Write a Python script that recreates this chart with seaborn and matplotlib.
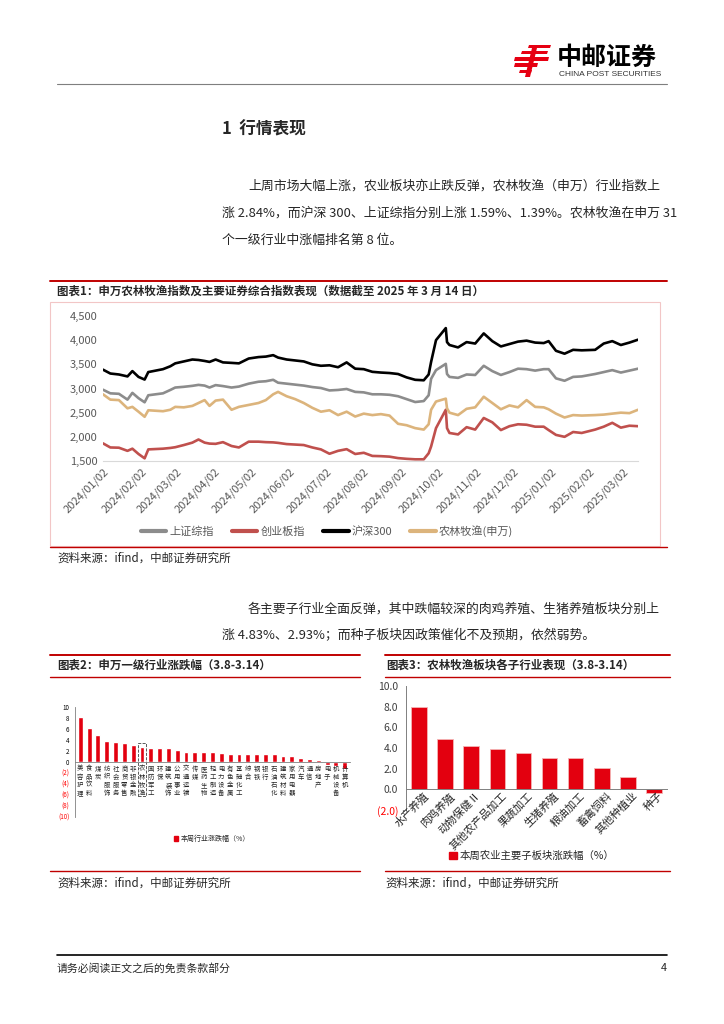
import matplotlib
matplotlib.use('Agg')
import matplotlib.pyplot as plt
from matplotlib.lines import Line2D
from matplotlib.patches import Rectangle, Patch, Polygon
import numpy as np
import pandas as pd
import seaborn as sns

# ---- chart 1 data: index levels (roughly weekly) ----
dates = ['2024-01-02', '2024-01-08', '2024-01-15', '2024-01-22', '2024-01-26', '2024-01-31',
         '2024-02-05', '2024-02-08', '2024-02-20', '2024-02-26', '2024-03-01', '2024-03-08',
         '2024-03-15', '2024-03-20', '2024-03-25', '2024-03-29', '2024-04-03', '2024-04-09',
         '2024-04-16', '2024-04-22', '2024-04-30', '2024-05-08', '2024-05-14', '2024-05-20',
         '2024-05-24', '2024-05-31', '2024-06-07', '2024-06-14', '2024-06-21', '2024-06-28',
         '2024-07-05', '2024-07-12', '2024-07-19', '2024-07-26', '2024-08-02', '2024-08-09',
         '2024-08-16', '2024-08-23', '2024-08-30', '2024-09-06', '2024-09-13', '2024-09-20',
         '2024-09-24', '2024-09-26', '2024-09-30', '2024-10-08', '2024-10-09', '2024-10-11',
         '2024-10-18', '2024-10-25', '2024-11-01', '2024-11-08', '2024-11-15', '2024-11-22',
         '2024-11-29', '2024-12-06', '2024-12-13', '2024-12-20', '2024-12-27', '2024-12-31',
         '2025-01-06', '2025-01-13', '2025-01-20', '2025-01-27', '2025-02-07', '2025-02-14',
         '2025-02-21', '2025-02-28', '2025-03-07', '2025-03-14']

sse = [2975, 2900, 2890, 2770, 2910, 2800, 2715, 2860, 2900, 2970, 3020, 3035,
       3055, 3075, 3060, 3020, 3070, 3050, 3020, 3040, 3100, 3140, 3150, 3180,
       3120, 3100, 3080, 3060, 3030, 3010, 2960, 2970, 2990, 2930, 2920, 2880,
       2880, 2870, 2840, 2780, 2720, 2740, 2860, 3200, 3380, 3510, 3300, 3240,
       3220, 3290, 3280, 3470, 3360, 3280, 3340, 3410, 3400, 3370, 3400, 3400,
       3210, 3160, 3240, 3250, 3300, 3340, 3380, 3330, 3370, 3410]

chinext = [1865, 1780, 1775, 1710, 1755, 1645, 1555, 1740, 1755, 1770, 1785, 1830,
           1880, 1945, 1880, 1860, 1855, 1890, 1810, 1780, 1900, 1900, 1890, 1885,
           1875, 1850, 1840, 1830, 1780, 1740, 1650, 1710, 1745, 1645, 1670, 1605,
           1600, 1590, 1560, 1545, 1535, 1535, 1660, 1800, 2180, 2560, 2180, 2080,
           2050, 2200, 2150, 2390, 2300, 2140, 2220, 2260, 2250, 2210, 2210, 2140,
           2040, 2000, 2100, 2080, 2150, 2210, 2290, 2190, 2230, 2220]

csi300 = [3390, 3310, 3290, 3250, 3360, 3240, 3185, 3340, 3400, 3460, 3520, 3560,
          3600, 3590, 3570, 3550, 3600, 3540, 3530, 3520, 3620, 3650, 3660, 3690,
          3640, 3600, 3580, 3560, 3500, 3470, 3480, 3440, 3540, 3410, 3400, 3345,
          3330, 3320, 3300, 3230, 3180, 3170, 3290, 3550, 4000, 4250, 3960, 3900,
          3850, 3960, 3930, 4140, 3980, 3870, 3920, 3970, 3990, 3950, 3940, 3980,
          3780, 3720, 3800, 3790, 3800, 3930, 3980, 3900, 3950, 4010]

agri = [2880, 2770, 2760, 2590, 2620, 2520, 2415, 2550, 2530, 2560, 2620, 2610,
        2640, 2700, 2760, 2640, 2750, 2770, 2560, 2620, 2660, 2700, 2760, 2880,
        2930, 2840, 2780, 2700, 2600, 2520, 2550, 2450, 2520, 2420, 2480, 2450,
        2470, 2440, 2270, 2240, 2180, 2150, 2260, 2560, 2730, 2790, 2590, 2500,
        2450, 2580, 2610, 2830, 2700, 2570, 2650, 2610, 2760, 2620, 2610, 2570,
        2480, 2400, 2450, 2440, 2450, 2460, 2480, 2500, 2490, 2560]

series_names = ['上证综指', '创业板指', '沪深300', '农林牧渔(申万)']
series_colors = ['#8c8c8c', '#c0504d', '#000000', '#dcb47c']

# ---- chart 2 data: SW level-1 industries, weekly change (%) ----
ind_names = ['美容护理', '食品饮料', '煤炭', '纺织服饰', '社会服务', '商贸零售', '非银金融',
             '农林牧渔', '国防军工', '环保', '建筑装饰', '公用事业', '交通运输', '传媒',
             '医药生物', '轻工制造', '电力设备', '有色金属', '基础化工', '综合', '钢铁',
             '银行', '石油石化', '建筑材料', '家用电器', '汽车', '通信', '房地产',
             '电子', '机械设备', '计算机']
ind_vals = [8.2, 6.1, 4.9, 3.9, 3.6, 3.5, 3.1, 2.8, 2.5, 2.5, 2.5, 2.2, 1.9, 1.9,
            1.9, 1.9, 1.7, 1.5, 1.5, 1.5, 1.5, 1.4, 1.4, 1.1, 1.1, 0.7, 0.5, 0.4,
            -0.6, -0.7, -1.2]
ind_yticks = [-10, -8, -6, -4, -2, 0, 2, 4, 6, 8, 10]

# ---- chart 3 data: agriculture sub-sectors, weekly change (%) ----
sub_names = ['水产养殖', '肉鸡养殖', '动物保健Ⅱ', '其他农产品加工', '果蔬加工',
             '生猪养殖', '粮油加工', '畜禽饲料', '其他种植业', '种子']
sub_vals = [8.0, 4.9, 4.2, 3.9, 3.5, 3.0, 3.0, 2.1, 1.2, -0.4]
sub_yticks = [-2, 0, 2, 4, 6, 8, 10]

sns.set_style('white')
plt.rcParams['font.family'] = ['Noto Sans CJK SC', 'DejaVu Sans']

W, H = 724, 1024
fig = plt.figure(figsize=(7.24, 10.24), dpi=100)
RED = '#c00000'
BAR = '#e3000f'


def ax_px(x0, y0, x1, y1):
    return fig.add_axes([x0 / W, 1 - y1 / H, (x1 - x0) / W, (y1 - y0) / H])


def txt(x, y, s, **kw):
    kw.setdefault('va', 'center')
    fig.text(x / W, 1 - y / H, s, **kw)


def hline(y, x0, x1, color, lw):
    fig.add_artist(Line2D([x0 / W, x1 / W], [1 - y / H, 1 - y / H], color=color, lw=lw))


# ---- page header ----
logo = ax_px(512, 44, 552, 78)
logo.set_xlim(0, 40)
logo.set_ylim(34, 0)
logo.axis('off')
for poly in [[(17, 1), (39, 1), (38, 4), (16, 4)],
             [(10, 7), (36, 7), (35, 10), (9, 10)],
             [(3, 13), (37, 13), (36, 17), (2, 17)],
             [(3, 19), (26, 19), (25, 23), (2, 23)],
             [(20, 4), (25, 4), (18, 33), (13, 33)],
             [(8, 26), (20, 26), (19, 29), (7, 29)]]:
    logo.add_patch(Polygon(poly, closed=True, color='#e60012', lw=0))
txt(557, 58, '中邮证券', fontsize=18, fontweight='bold', color='black')
txt(559, 74, 'CHINA POST SECURITIES', fontsize=6, color='#333333', family='Liberation Sans')
hline(84, 57, 667, '#7f7f7f', 0.8)

# ---- section text ----
txt(222, 130, '1  行情表现', fontsize=12, fontweight='bold')
txt(248, 186, '上周市场大幅上涨，农业板块亦止跌反弹，农林牧渔（申万）行业指数上', fontsize=9.3)
txt(222, 213, '涨 2.84%，而沪深 300、上证综指分别上涨 1.59%、1.39%。农林牧渔在申万 31', fontsize=9.3)
txt(222, 240, '个一级行业中涨幅排名第 8 位。', fontsize=9.3)

# ---- chart 1 frame ----
hline(281, 50, 667, RED, 1.4)
txt(57, 291, '图表1：申万农林牧渔指数及主要证券综合指数表现（数据截至 2025 年 3 月 14 日）',
    fontsize=8.3, fontweight='bold')
fig.add_artist(Rectangle((50 / W, 1 - 546 / H), (660 - 50) / W, (546 - 302) / H,
                         transform=fig.transFigure, fill=False, ec='#f2c6c6', lw=0.8))
hline(547, 50, 667, RED, 1.0)
txt(57, 558, '资料来源：ifind，中邮证券研究所', fontsize=8.3)

df = pd.DataFrame({
    'date': pd.to_datetime(dates * 4),
    'value': sse + chinext + csi300 + agri,
    'series': np.repeat(series_names, len(dates)),
})
ax1 = ax_px(103, 316, 638, 461)
sns.lineplot(data=df, x='date', y='value', hue='series', hue_order=series_names,
             palette=series_colors, linewidth=1.9, legend=False, ax=ax1)
ax1.set_xlim(pd.Timestamp(dates[0]), pd.Timestamp(dates[-1]))
ax1.set_ylim(1500, 4500)
ax1.set_yticks(range(1500, 4501, 500))
ax1.set_yticklabels([f'{v:,}' for v in range(1500, 4501, 500)], fontsize=8, color='#595959')
months = pd.date_range('2024-01-01', '2025-03-01', freq='MS') + pd.Timedelta(days=1)
ax1.set_xticks(months)
ax1.set_xticklabels([d.strftime('%Y/%m/%d') for d in months], rotation=45, ha='right',
                    rotation_mode='anchor', fontsize=8, color='#595959')
ax1.tick_params(length=0, pad=4)
ax1.set_xlabel('')
ax1.set_ylabel('')
for s in ['top', 'right', 'left']:
    ax1.spines[s].set_visible(False)
ax1.spines['bottom'].set_color('#d9d9d9')
handles = [Line2D([], [], color=c, lw=3) for c in series_colors]
ax1.legend(handles, series_names, loc='center', bbox_to_anchor=(327 / W, 1 - 531 / H),
           bbox_transform=fig.transFigure, ncol=4, frameon=False, fontsize=8,
           handlelength=2.3, columnspacing=1.6, handletextpad=0.3, labelcolor='#595959')

# ---- second paragraph ----
txt(248, 609, '各主要子行业全面反弹，其中跌幅较深的肉鸡养殖、生猪养殖板块分别上', fontsize=9.3)
txt(222, 636, '涨 4.83%、2.93%；而种子板块因政策催化不及预期，依然弱势。', fontsize=9.3)

# ---- chart 2 ----
hline(655, 50, 360, RED, 1.4)
txt(57, 665, '图表2：申万一级行业涨跌幅（3.8-3.14）', fontsize=8.3, fontweight='bold')
hline(677, 50, 360, RED, 1.0)
ax2 = ax_px(75, 707, 350, 817)
sns.barplot(x=ind_names, y=ind_vals, color=BAR, saturation=1, width=0.55, ax=ax2)
ax2.set_xlim(-0.6, len(ind_names) - 0.4)
ax2.set_ylim(-10, 10)
ax2.set_xticks([])
ax2.set_yticks(ind_yticks)
ax2.set_yticklabels([f'({-v})' if v < 0 else str(v) for v in ind_yticks], fontsize=4.5)
for lab, v in zip(ax2.get_yticklabels(), ind_yticks):
    lab.set_color('#ff0000' if v < 0 else 'black')
ax2.tick_params(axis='y', length=2, width=0.5, pad=2, color='#808080')
for s in ['top', 'right']:
    ax2.spines[s].set_visible(False)
ax2.spines['bottom'].set_position(('data', 0))
ax2.spines['bottom'].set_color('#808080')
ax2.spines['bottom'].set_linewidth(0.6)
ax2.spines['left'].set_color('#808080')
ax2.spines['left'].set_linewidth(0.6)
for i, name in enumerate(ind_names):
    ax2.text(i, -0.5, '\n'.join(name), ha='center', va='top', fontsize=4.6, linespacing=1.0)
ax2.add_patch(Rectangle((6.5, -6.2), 1.0, 9.7, fill=False, ls='--', lw=0.6,
                        ec='#404040', clip_on=False))
ax2.set_xlabel('')
ax2.set_ylabel('')
ax2.legend([Patch(color=BAR)], ['本周行业涨跌幅（%）'], loc='center',
           bbox_to_anchor=(212 / W, 1 - 839 / H), bbox_transform=fig.transFigure,
           frameon=False, fontsize=5, handlelength=0.6, handleheight=0.6, handletextpad=0.3)

# ---- chart 3 ----
hline(655, 385, 670, RED, 1.4)
txt(386, 665, '图表3：农林牧渔板块各子行业表现（3.8-3.14）', fontsize=8.3, fontweight='bold')
hline(677, 385, 670, RED, 1.0)
ax3 = ax_px(406, 686, 667, 810)
sns.barplot(x=sub_names, y=sub_vals, color=BAR, saturation=1, width=0.6,
            edgecolor='#f4b4b4', linewidth=0.6, ax=ax3)
ax3.set_xlim(-0.5, len(sub_names) - 0.5)
ax3.set_ylim(-2, 10)
ax3.set_xticks([])
ax3.set_yticks(sub_yticks)
ax3.set_yticklabels([f'({-v:.1f})' if v < 0 else f'{v:.1f}' for v in sub_yticks],
                    fontsize=7.5)
for lab, v in zip(ax3.get_yticklabels(), sub_yticks):
    lab.set_color('#ff0000' if v < 0 else '#404040')
ax3.tick_params(axis='y', length=2.5, width=0.6, pad=3, color='#808080')
for s in ['top', 'right']:
    ax3.spines[s].set_visible(False)
ax3.spines['bottom'].set_position(('data', 0))
ax3.spines['bottom'].set_color('#808080')
ax3.spines['left'].set_color('#808080')
ax3.spines['bottom'].set_linewidth(0.7)
ax3.spines['left'].set_linewidth(0.7)
for i, name in enumerate(sub_names):
    ax3.text(i + 0.3, -0.45, name, ha='right', va='center', rotation=45,
             rotation_mode='anchor', fontsize=7.8)
ax3.set_xlabel('')
ax3.set_ylabel('')
ax3.legend([Patch(color=BAR)], ['本周农业主要子板块涨跌幅（%）'], loc='center',
           bbox_to_anchor=(532 / W, 1 - 856 / H), bbox_transform=fig.transFigure,
           frameon=False, fontsize=7.5, handlelength=0.7, handleheight=0.7, handletextpad=0.3)

# ---- sources and footer ----
hline(871, 50, 360, RED, 1.0)
hline(871, 385, 670, RED, 1.0)
txt(57, 883, '资料来源：ifind，中邮证券研究所', fontsize=8.3)
txt(385, 883, '资料来源：ifind，中邮证券研究所', fontsize=8.3)
hline(955, 57, 667, '#000000', 1.2)
txt(57, 968, '请务必阅读正文之后的免责条款部分', fontsize=7.8)
txt(667, 968, '4', fontsize=7.8, ha='right')

fig.savefig('out.png', dpi=100)
